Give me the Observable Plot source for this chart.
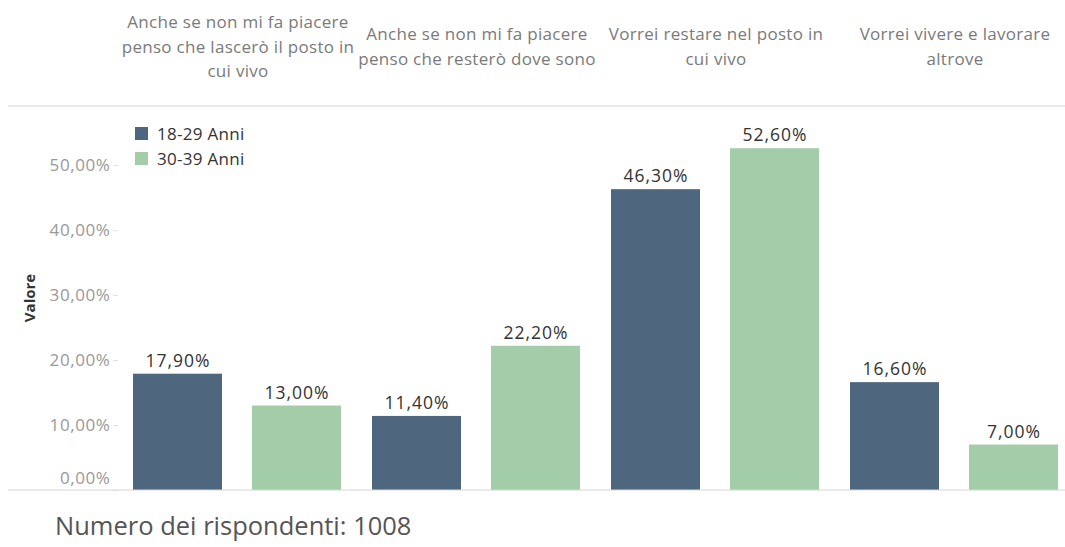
<!DOCTYPE html>
<html><head><meta charset="utf-8">
<script src="https://cdn.jsdelivr.net/npm/d3@7"></script>
<script src="https://cdn.jsdelivr.net/npm/@observablehq/plot@0.6"></script>
<style>
html,body{margin:0;padding:0;overflow:hidden;background:#fff;}
#wrap{position:relative;width:1065px;height:547px;overflow:hidden;font-family:"Open Sans",sans-serif;}
#chart{position:absolute;left:0;top:0;}
#legend{position:absolute;left:135px;top:121px;font-size:17px;letter-spacing:0.3px;color:#333;}
#legend .item{display:flex;align-items:center;height:25px;}
#legend .sw{width:13px;height:13px;margin-right:9px;}
#caption{position:absolute;left:55px;top:510px;font-size:25.5px;color:#555;white-space:nowrap;line-height:1.2;}
</style></head><body>
<div id="wrap"><div id="chart"></div><div id="legend"></div><div id="caption">Numero dei rispondenti: 1008</div></div>
<script>
const categories = [
  "Anche se non mi fa piacere penso che lascerò il posto in cui vivo",
  "Anche se non mi fa piacere penso che resterò dove sono",
  "Vorrei restare nel posto in cui vivo",
  "Vorrei vivere e lavorare altrove"
];
const headerLabels = [
  "Anche se non mi fa piacere\npenso che lascerò il posto in\ncui vivo",
  "Anche se non mi fa piacere\npenso che resterò dove sono",
  "Vorrei restare nel posto in\ncui vivo",
  "Vorrei vivere e lavorare\naltrove"
];
const groups = ["18-29 Anni", "30-39 Anni"];
const colors = ["#4e677e", "#a2cda8"];
const values1829 = [17.9, 11.4, 46.3, 16.6];
const values3039 = [13.0, 22.2, 52.6, 7.0];
const yTicks = [0, 10, 20, 30, 40, 50];
const yMax = 59.1;
const yTitle = "Valore";

const rows = [];
categories.forEach((c, i) => {
  rows.push({category: c, group: groups[0], value: values1829[i]});
  rows.push({category: c, group: groups[1], value: values3039[i]});
});
const headers = categories.map((c, i) => ({category: c, label: headerLabels[i]}));
const fmt = v => v.toFixed(2).replace(".", ",") + "%";

const plot = Plot.plot({
  width: 1075, height: 500,
  marginLeft: 117, marginRight: 0, marginTop: 106, marginBottom: 10,
  style: {fontFamily: "'Open Sans', sans-serif", fontSize: "16px", background: "transparent", overflow: "visible", maxWidth: "none"},
  fx: {domain: categories, padding: 0, axis: null},
  x: {domain: groups, paddingInner: 0.25, paddingOuter: 0.125, axis: null},
  y: {domain: [0, yMax], axis: null, label: null},
  color: {domain: groups, range: colors},
  marks: [
    Plot.barY(rows, {fx: "category", x: "group", y: "value", fill: "group"}),
    Plot.text(rows, {fx: "category", x: "group", y: "value", text: d => fmt(d.value), dy: -13, lineAnchor: "middle", fill: "#333", fontSize: 17.5}),
    Plot.text(headers, {fx: "category", text: "label", frameAnchor: "top", dy: -62, lineAnchor: "middle", fill: "#7a7a7a", fontSize: 17, lineHeight: 1.47}),
    Plot.axisY(yTicks, {tickSize: 5, tickFormat: () => "", color: "#e2e2e2", label: null}),
    Plot.axisY(yTicks.slice(1), {tickSize: 0, tickPadding: 8, tickFormat: fmt, color: "#999", fontSize: 17, label: null}),
    Plot.axisY([0], {tickSize: 0, tickPadding: 8, tickFormat: fmt, color: "#999", fontSize: 17, dy: -12, label: null})
  ]
});

const ys = plot.scale("y");
const svg = d3.select(plot);
const textGroups = svg.selectAll('g[aria-label="text"]').nodes();
if (textGroups[0]) textGroups[0].style.letterSpacing = "1px";
if (textGroups[1]) textGroups[1].style.letterSpacing = "0.3px";
svg.selectAll('g[aria-label="y-axis tick label"]').style("letter-spacing", "0.6px");

[0, yMax].forEach(v => {
  svg.append("line")
    .attr("x1", 8).attr("x2", 1075)
    .attr("y1", ys.apply(v)).attr("y2", ys.apply(v))
    .attr("stroke", "#d6d6d6").attr("stroke-width", 1);
});
const yMid = (ys.range[0] + ys.range[1]) / 2;
svg.append("text")
  .attr("transform", `translate(30,${yMid}) rotate(-90)`)
  .attr("text-anchor", "middle").attr("dy", "0.35em")
  .attr("font-weight", "bold").attr("font-size", 15).attr("fill", "#333")
  .text(yTitle);
document.getElementById("chart").appendChild(plot);

const cs = plot.scale("color");
const leg = d3.select("#legend").selectAll(".item").data(groups).join("div").attr("class", "item");
leg.append("div").attr("class", "sw").style("background", d => cs.apply(d));
leg.append("span").text(d => d);
</script>
</body></html>
